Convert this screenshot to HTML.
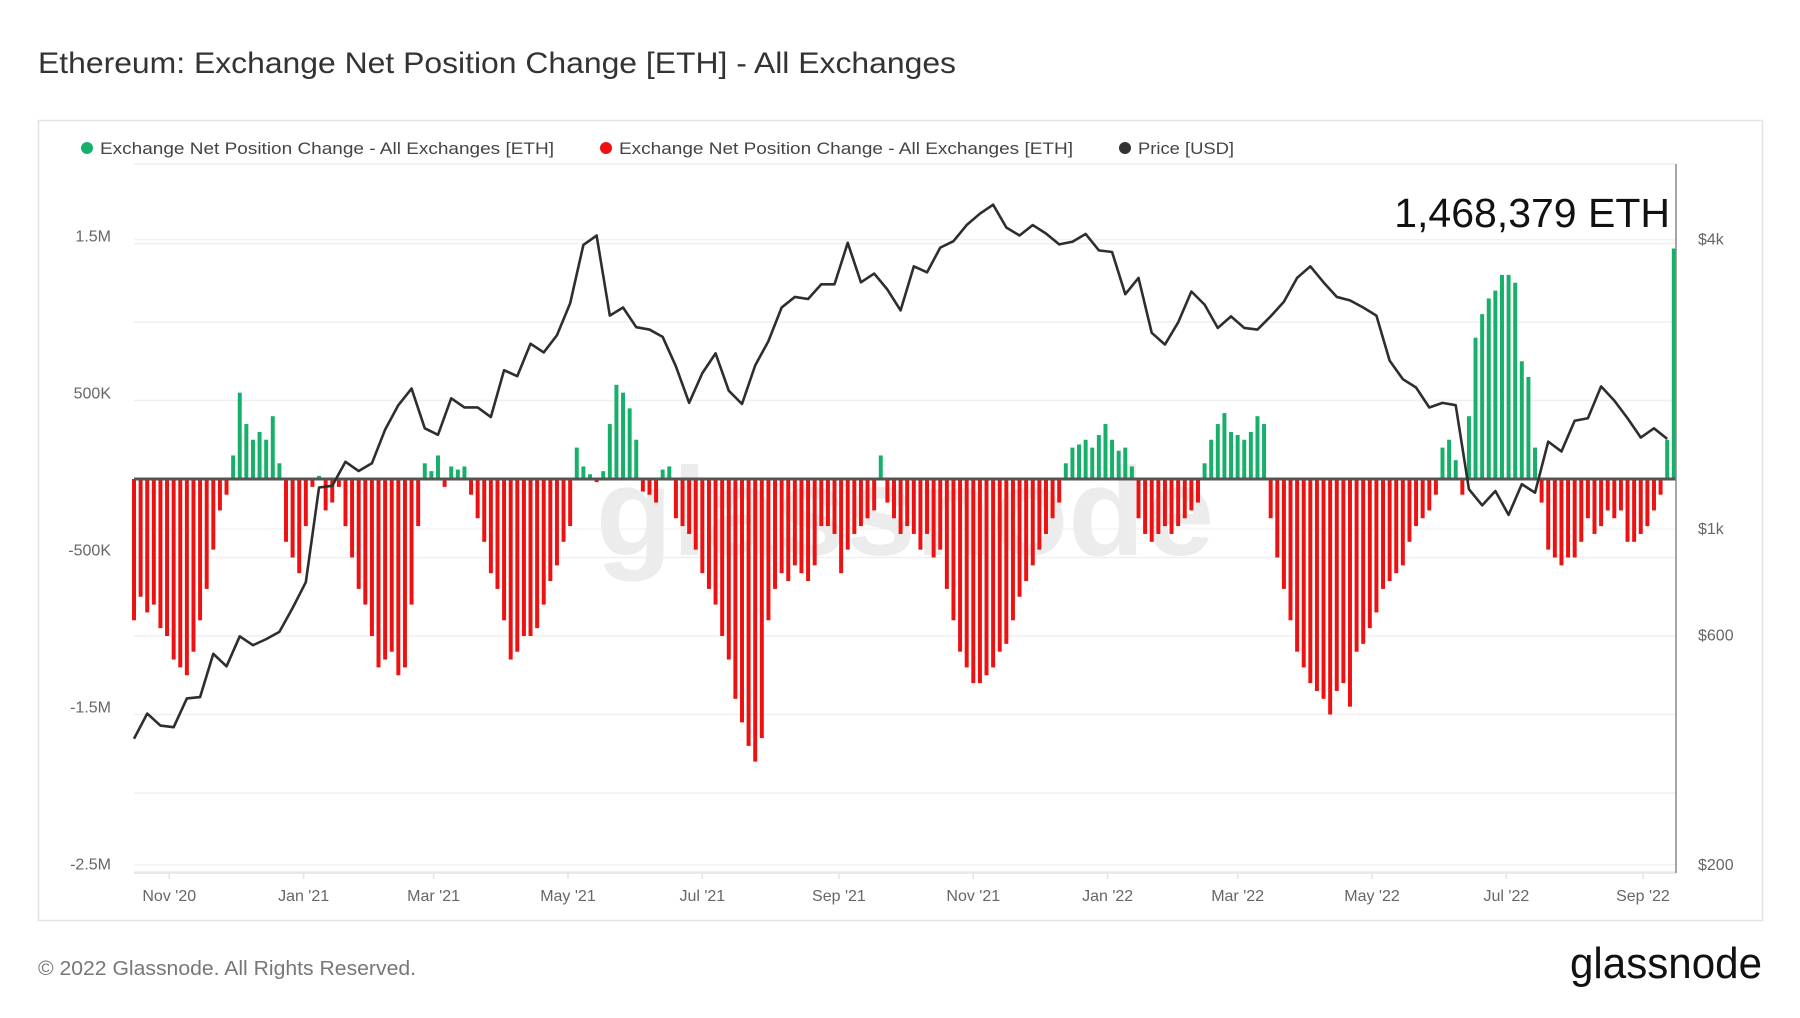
<!DOCTYPE html>
<html><head><meta charset="utf-8">
<style>
html,body{margin:0;padding:0;background:#fff;}
body{width:1800px;height:1013px;overflow:hidden;font-family:"Liberation Sans",sans-serif;}
</style></head>
<body>
<svg id="chart" width="1800" height="1013" viewBox="0 0 1800 1013" xmlns="http://www.w3.org/2000/svg" font-family="Liberation Sans, sans-serif">
  <text x="38" y="73" font-size="30" fill="#333" textLength="918" lengthAdjust="spacingAndGlyphs">Ethereum: Exchange Net Position Change [ETH] - All Exchanges</text>
  <rect x="38.5" y="120.5" width="1724" height="800" fill="#fff" stroke="#e3e3e3" stroke-width="1.5"/>
  <g font-size="17" fill="#444">
    <circle cx="87" cy="148" r="6" fill="#16b06a"/>
    <text x="100" y="154" textLength="454" lengthAdjust="spacingAndGlyphs">Exchange Net Position Change - All Exchanges [ETH]</text>
    <circle cx="606" cy="148" r="6" fill="#ee1111"/>
    <text x="619" y="154" textLength="454" lengthAdjust="spacingAndGlyphs">Exchange Net Position Change - All Exchanges [ETH]</text>
    <circle cx="1125" cy="148" r="6" fill="#333"/>
    <text x="1138" y="154" textLength="96" lengthAdjust="spacingAndGlyphs">Price [USD]</text>
  </g>
  <line x1="134" y1="164" x2="1676" y2="164" stroke="#eee" stroke-width="1.5"/>
  <g id="grid"></g>
  <text x="905" y="555" font-size="125" fill="#ececec" text-anchor="middle" font-weight="bold">glassnode</text>
  <g id="bars"></g>
  <g id="zero"></g>
  <path id="price" fill="none" stroke="#2e2e2e" stroke-width="2.6" stroke-linejoin="round"/>
  <g id="axes" font-size="16" fill="#666"></g>
  <line x1="1676" y1="164" x2="1676" y2="873" stroke="#888" stroke-width="1.5"/>
  <text x="1670" y="227" font-size="41" fill="#111" text-anchor="end">1,468,379 ETH</text>
  <text x="38" y="975" font-size="20" fill="#777" textLength="378" lengthAdjust="spacingAndGlyphs">© 2022 Glassnode. All Rights Reserved.</text>
  <text x="1570" y="978" font-size="44" fill="#111" textLength="192" lengthAdjust="spacingAndGlyphs">glassnode</text>
</svg>
<script>
// Net position change in thousands ETH, one value every 3 days from 2020-10-16
const netChange = [-900,-750,-850,-800,-950,-1000,-1150,-1200,-1250,-1100,-900,-700,-450,-200,-100,
150,550,350,250,300,250,400,100,
-400,-500,-600,-300,-50,
20,-200,-150,-50,
-300,-500,-700,-800,-1000,-1200,-1150,-1100,-1250,-1200,-800,-300,
100,50,150,-50,80,60,80,-100,
-250,-400,-600,-700,-900,-1150,-1100,-1000,-1000,-950,-800,-650,-550,-400,-300,
200,80,30,-20,50,350,600,550,450,250,
-80,-100,-150,60,80,
-250,-300,-350,-450,-600,-700,-800,-1000,-1150,-1400,-1550,-1700,-1800,-1650,-900,-700,-600,-650,-550,-600,-650,-550,-300,-300,
-350,-600,-450,-350,-300,-250,-200,150,
-150,-250,-350,-300,-350,-450,-350,-500,-450,-700,-900,-1100,-1200,-1300,-1300,-1250,-1200,-1100,-1050,-900,-750,-650,-550,-450,-350,-250,-150,
100,200,220,250,200,280,350,250,180,200,80,
-250,-350,-400,-350,-300,-350,-300,-250,-200,-150,
100,250,350,420,300,280,250,300,400,350,
-250,-500,-700,-900,-1100,-1200,-1300,-1350,-1400,-1500,-1350,-1300,-1450,-1100,-1050,-950,-850,-700,-650,-600,-550,-400,-300,-250,-200,-100,
200,250,120,-100,
400,900,1050,1150,1200,1300,1300,1250,750,650,200,
-150,-450,-500,-550,-500,-500,-400,-250,-350,-300,-200,-250,-200,-400,-400,-350,-300,-200,-100,250,1468];
const netStepDays = 3;
// ETH price (USD), one value every 6 days from 2020-10-16
const priceUsd = [366,413,390,387,444,447,550,518,598,573,590,611,685,775,1220,1230,1380,1320,1370,1610,1810,1960,1620,1570,1870,1790,1790,1710,2140,2080,2430,2330,2530,2950,3900,4080,2780,2890,2630,2600,2510,2180,1830,2110,2320,1940,1820,2190,2460,2890,3040,3010,3230,3230,3940,3260,3400,3150,2850,3520,3420,3850,3970,4290,4530,4730,4240,4080,4290,4120,3910,3960,4110,3800,3770,3080,3330,2560,2420,2690,3120,2930,2620,2770,2620,2600,2770,2970,3330,3520,3260,3040,2990,2890,2780,2240,2050,1970,1790,1830,1810,1210,1120,1200,1070,1240,1190,1520,1450,1680,1700,1980,1850,1700,1550,1620,1540];
const priceStepDays = 6;
const leftTicks = [1500,500,-500,-1500,-2500];
const leftTickLabels = ["1.5M","500K","-500K","-1.5M","-2.5M"];
const rightTicks = [4000,1000,600,200];
const rightTickLabels = ["$4k","$1k","$600","$200"];
const monthTicks = ["2020-11-01","2021-01-01","2021-03-01","2021-05-01","2021-07-01","2021-09-01","2021-11-01","2022-01-01","2022-03-01","2022-05-01","2022-07-01","2022-09-01"];
const monthLabels = ["Nov '20","Jan '21","Mar '21","May '21","Jul '21","Sep '21","Nov '21","Jan '22","Mar '22","May '22","Jul '22","Sep '22"];

const NS="http://www.w3.org/2000/svg";
const X0=134, X1=1676, Y0=164, Y1=873;
const startMs=Date.UTC(2020,9,16);
const pxPerDay=(X1-X0)/700;
function xDay(d){return X0+d*pxPerDay;}
function yNet(k){return 479 - k/1000*157;}
function yPrice(p){return 529 - (Math.log10(p)-3)*480.6;}
function mk(tag,attrs,parent){const e=document.createElementNS(NS,tag);for(const k in attrs)e.setAttribute(k,attrs[k]);parent.appendChild(e);return e;}

const grid=document.getElementById('grid');
for(let v=1500;v>=-2500;v-=500){
  const g=mk('line',{x1:X0,x2:X1,y1:yNet(v),y2:yNet(v),stroke:'#efefef','stroke-width':1.5},grid);
  
  
}
rightTicks.forEach(p=>{
  const g=mk('line',{x1:X0,x2:X1,y1:yPrice(p),y2:yPrice(p),stroke:'#f3f3f3','stroke-width':1.5},grid);
  
  
});
const bl=mk('line',{x1:X0,x2:X1,y1:Y1,y2:Y1,stroke:'#e3e3e3','stroke-width':1.5},grid);



const bars=document.getElementById('bars');
const bw=netStepDays*pxPerDay*0.6;
netChange.forEach((v,i)=>{
  const x=xDay(i*netStepDays);
  const y0=yNet(0), y=yNet(v);
  const r=mk('rect',{x:(x-bw/2).toFixed(2),y:Math.min(y0,y).toFixed(2),width:bw.toFixed(2),height:Math.abs(y-y0).toFixed(2),fill:v>=0?'#16b06a':'#ee1111'},bars);
  
  
});
const zl=mk('line',{x1:X0,x2:X1,y1:yNet(0),y2:yNet(0),stroke:'#555','stroke-width':3},document.getElementById('zero'));



document.getElementById('price').setAttribute('d',priceUsd.map((p,i)=>(i?'L':'M')+xDay(i*priceStepDays).toFixed(2)+','+yPrice(p).toFixed(2)).join(''));

const axes=document.getElementById('axes');
leftTicks.forEach((v,i)=>{
  const t=mk('text',{x:111,y:yNet(v)-2,'text-anchor':'end'},axes);
  t.textContent=leftTickLabels[i];
  
  
});
rightTicks.forEach((p,i)=>{
  const t=mk('text',{x:1698,y:yPrice(p)+5},axes);
  t.textContent=rightTickLabels[i];
  
  
});
monthTicks.forEach((d,i)=>{
  const p=d.split('-').map(Number);
  const days=(Date.UTC(p[0],p[1]-1,p[2])-startMs)/86400000;
  const x=xDay(days);
  const tk=mk('line',{x1:x,x2:x,y1:Y1,y2:Y1+6,stroke:'#e3e3e3','stroke-width':1.5},axes);
  
  
  const t=mk('text',{x:x,y:901,'text-anchor':'middle'},axes);
  t.textContent=monthLabels[i];
  
  
});
</script>
</body></html>
